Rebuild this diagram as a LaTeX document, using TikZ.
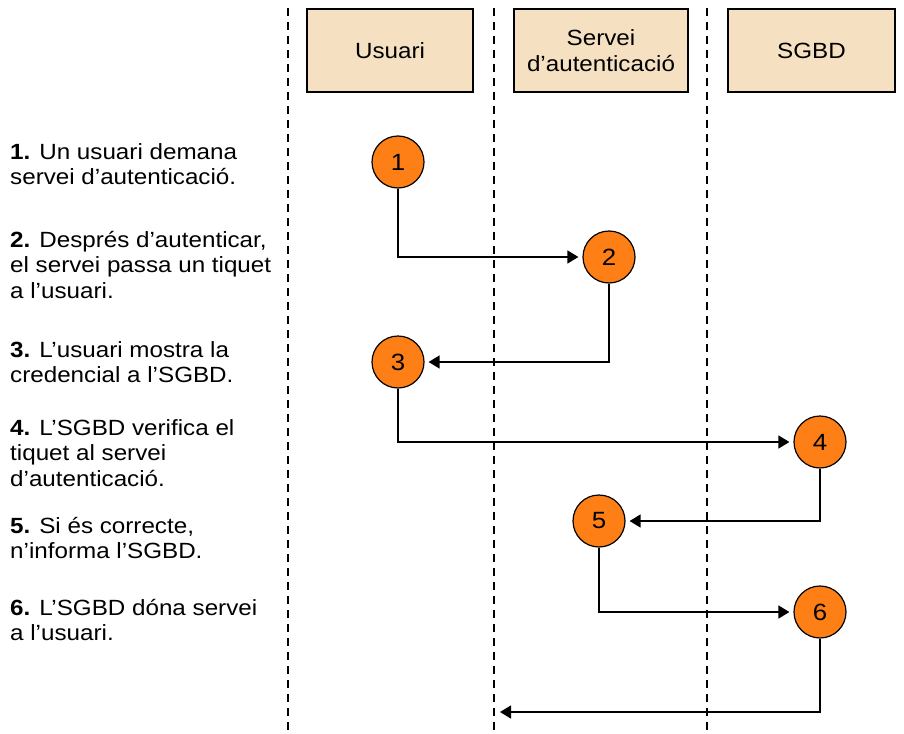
\documentclass[tikz,border=0pt]{standalone}
\usepackage{fontspec}
\setmainfont{Liberation Sans}[FakeStretch=1.1]
\usetikzlibrary{arrows.meta}
\definecolor{boxfill}{HTML}{F5E1C1}
\definecolor{circfill}{HTML}{FF7F17}
\begin{document}
\begin{tikzpicture}[x=1pt,y=-1pt,
 lane/.style={draw=black, line width=1.3pt, dash pattern=on 8pt off 6pt},
 hdr/.style={draw=black, line width=1.2pt, fill=boxfill, minimum height=83pt, align=center, font=\fontsize{22}{26.5}\selectfont, inner sep=0pt},
 stepc/.style={circle, draw=black, line width=1.2pt, fill=circfill, minimum size=52pt, inner sep=0pt, font=\fontsize{23.5}{25}\selectfont},
 conn/.style={line width=1.4pt, -{Triangle[length=11pt,width=13pt]}, shorten >=4pt},
 desc/.style={anchor=north west, align=left, inner sep=0pt, font=\fontsize{22}{25.5}\selectfont}
]
\useasboundingbox (0,0) rectangle (904,733);
% lanes
\coordinate (l1t) at (288,8);   \coordinate (l1b) at (288,733);
\coordinate (l2t) at (494,8);   \coordinate (l2b) at (494,733);
\coordinate (l3t) at (707,8);   \coordinate (l3b) at (707,733);
\draw[lane] (l1t) -- (l1b);
\draw[lane] (l2t) -- (l2b);
\draw[lane] (l3t) -- (l3b);
% headers
\node[hdr, minimum width=166pt] (usr) at (390,50.5) {Usuari};
\node[hdr, minimum width=174pt] (aut) at (601,50.5) {Servei\\d’autenticació};
\node[hdr, minimum width=167pt] (sgbd) at (811.5,50.5) {SGBD};
% steps
\node[stepc] (c1) at (398,162) {1};
\node[stepc] (c2) at (609,257) {2};
\node[stepc] (c3) at (398,362) {3};
\node[stepc] (c4) at (820,442) {4};
\node[stepc] (c5) at (599,521) {5};
\node[stepc] (c6) at (820,612) {6};
\coordinate (fin) at (496,712);
% connectors
\draw[conn] (c1.south) |- (c2.west);
\draw[conn] (c2.south) |- (c3.east);
\draw[conn] (c3.south) |- (c4.west);
\draw[conn] (c4.south) |- (c5.east);
\draw[conn] (c5.south) |- (c6.west);
\draw[conn] (c6.south) |- (fin);
% descriptions
\node[desc] (d1) at (10,143) {\textbf{1.} Un usuari demana\\servei d’autenticació.};
\node[desc] (d2) at (10,231) {\textbf{2.} Després d’autenticar,\\el servei passa un tiquet\\a l’usuari.};
\node[desc] (d3) at (10,341) {\textbf{3.} L’usuari mostra la\\credencial a l’SGBD.};
\node[desc] (d4) at (10,419) {\textbf{4.} L’SGBD verifica el\\tiquet al servei\\d’autenticació.};
\node[desc] (d5) at (10,517) {\textbf{5.} Si és correcte,\\n’informa l’SGBD.};
\node[desc] (d6) at (10,599) {\textbf{6.} L’SGBD dóna servei\\a l’usuari.};
\end{tikzpicture}
\end{document}
